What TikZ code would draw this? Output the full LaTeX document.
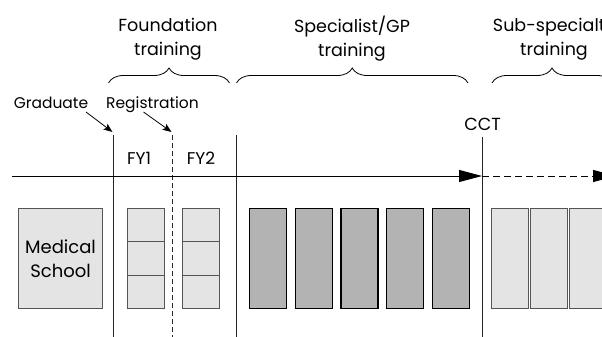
\documentclass[tikz,border=0pt]{standalone}
\usepackage{fontspec}
\setmainfont{Poppins}
\usetikzlibrary{arrows.meta,decorations.pathreplacing}
\definecolor{lightfill}{HTML}{E4E4E4}
\definecolor{darkfill}{HTML}{B3B3B3}
\definecolor{edgegray}{HTML}{555555}
\begin{document}
\begin{tikzpicture}[x=1pt,y=-1pt,
  head/.style={font=\fontsize{17.5}{24}\selectfont, align=center, inner sep=0pt},
  lab/.style={font=\fontsize{15.5}{18}\selectfont, inner sep=0pt, anchor=base},
  bracepath/.style={draw, line width=0.8pt, decorate, decoration={brace, amplitude=15pt}},
  divider/.style={line width=0.9pt, draw=black!85},
  lightbx/.style={draw=edgegray, fill=lightfill, line width=0.9pt, minimum width=37pt, minimum height=100pt, inner sep=0pt},
  darkbx/.style={draw=black, fill=darkfill, line width=1.2pt, minimum width=37pt, minimum height=100pt, inner sep=0pt},
  pointer/.style={line width=0.8pt, -{Stealth[length=9pt,width=7pt,inset=2pt]}},
  timeline/.style={line width=1pt, -{Triangle[length=23pt,width=12pt]}}
]
\useasboundingbox (0,0) rectangle (602,337);
\clip (0,0) rectangle (602,337);

% headings
\node[head] (hfound) at (168,39) {Foundation\\training};
\node[head] (hspec) at (352,39) {Specialist/GP\\training};
\node[head] (hsub) at (554,39) {Sub-specialty\\training};

% braces
\coordinate (b1s) at (108.5,83); \coordinate (b1e) at (229.5,83);
\coordinate (b2s) at (236.5,83); \coordinate (b2e) at (468,83);
\coordinate (b3s) at (492,83); \coordinate (b3e) at (612,83);
\path[bracepath] (b1s) -- (b1e);
\path[bracepath] (b2s) -- (b2e);
\path[bracepath] (b3s) -- (b3e);

% labels
\node[lab] (grad) at (51,108) {Graduate};
\node[lab] (reg) at (152.5,108) {Registration};
\node[lab, font=\fontsize{17}{20}\selectfont] (fy1) at (139,164.3) {FY1};
\node[lab, font=\fontsize{17}{20}\selectfont] (fy2) at (201,164.3) {FY2};
\node[lab, font=\fontsize{17.5}{20}\selectfont] (cct) at (482.5,130) {CCT};

% vertical dividers
\coordinate (v1t) at (113,135); \coordinate (v1b) at (113,337);
\coordinate (v2t) at (172,135); \coordinate (v2b) at (172,337);
\coordinate (v3t) at (236,135); \coordinate (v3b) at (236,337);
\coordinate (v4t) at (482,137); \coordinate (v4b) at (482,337);
\draw[divider] (v1t) -- (v1b);
\draw[divider, dash pattern=on 5pt off 3pt] (v2t) -- (v2b);
\draw[divider] (v3t) -- (v3b);
\draw[divider] (v4t) -- (v4b);

% pointers
\coordinate (g0) at (86,112); \coordinate (g1) at (112.5,132);
\coordinate (r0) at (143.5,112); \coordinate (r1) at (171.5,132);
\draw[pointer] (g0) -- (g1);
\draw[pointer] (r0) -- (r1);

% timeline
\coordinate (t0) at (12,176); \coordinate (t1) at (482,176); \coordinate (t2) at (616,176);
\draw[timeline] (t0) -- (t1);
\draw[timeline, dash pattern=on 7pt off 4pt] (t1) -- (t2);

% medical school
\node[lightbx, minimum width=84.5pt, font=\fontsize{18}{24}\selectfont, align=center] (med) at (60.5,258.3) {Medical\\School};

% foundation years
\node[lightbx] (fy1box) at (145.5,258.3) {};
\draw[edgegray, line width=0.9pt] ([yshift=-33.3pt]fy1box.north west) -- ([yshift=-33.3pt]fy1box.north east);
\draw[edgegray, line width=0.9pt] ([yshift=33.3pt]fy1box.south west) -- ([yshift=33.3pt]fy1box.south east);
\node[lightbx] (fy2box) at (200.5,258.3) {};
\draw[edgegray, line width=0.9pt] ([yshift=-33.3pt]fy2box.north west) -- ([yshift=-33.3pt]fy2box.north east);
\draw[edgegray, line width=0.9pt] ([yshift=33.3pt]fy2box.south west) -- ([yshift=33.3pt]fy2box.south east);

% specialist years
\node[darkbx] (s1) at (268,258.3) {};
\node[darkbx] (s2) at (313.7,258.3) {};
\node[darkbx] (s3) at (359.4,258.3) {};
\node[darkbx] (s4) at (405.1,258.3) {};
\node[darkbx] (s5) at (451,258.3) {};

% sub-specialty years
\node[lightbx] (u1) at (510.2,258.3) {};
\node[lightbx] (u2) at (549.2,258.3) {};
\node[lightbx] (u3) at (588.2,258.3) {};
\end{tikzpicture}
\end{document}
